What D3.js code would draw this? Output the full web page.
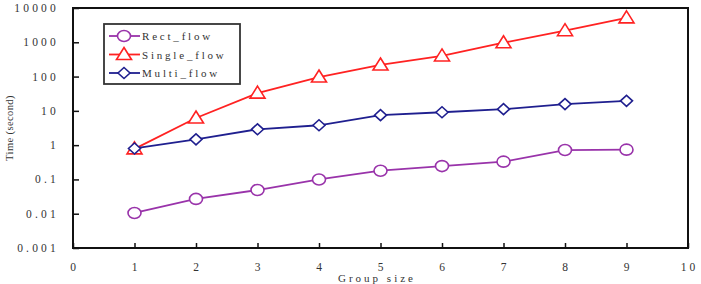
<!DOCTYPE html>
<html>
<head>
<meta charset="utf-8">
<script src="https://cdn.jsdelivr.net/npm/d3@7"></script>
<style>
  body { margin: 0; background: #fff; }
  text { font-family: "Liberation Serif", "DejaVu Serif", serif; fill: #333; }
</style>
</head>
<body>
<div id="chart"></div>
<script>
// data
var groupSize = [1, 2, 3, 4, 5, 6, 7, 8, 9];
var rectFlow = [0.0105, 0.027, 0.049, 0.1, 0.18, 0.245, 0.33, 0.72, 0.74];
var singleFlow = [0.78, 6.2, 33, 97, 218, 400, 970, 2180, 5150];
var multiFlow = [0.8, 1.48, 2.9, 3.8, 7.5, 9.1, 11.2, 15.8, 19.6];
var xTicks = [0, 1, 2, 3, 4, 5, 6, 7, 8, 9, 10];
var yTicks = [0.001, 0.01, 0.1, 1, 10, 100, 1000, 10000];
var yTickLabels = ["0.001", "0.01", "0.1", "1", "10", "100", "1000", "10000"];
var seriesNames = ["Rect_flow", "Single_flow", "Multi_flow"];

var width = 701, height = 284;
var margin = { left: 73, right: 13, top: 8, bottom: 36 };

var svg = d3.select("#chart").append("svg")
  .attr("width", width)
  .attr("height", height);

var x = d3.scaleLinear()
  .domain([0, 10])
  .range([margin.left, width - margin.right]);

var y = d3.scaleLog()
  .domain([0.001, 10000])
  .range([height - margin.bottom, margin.top]);

var series = [
  { name: seriesNames[0], values: rectFlow, color: "#9933aa", marker: "circle" },
  { name: seriesNames[1], values: singleFlow, color: "#ff2222", marker: "triangle" },
  { name: seriesNames[2], values: multiFlow, color: "#1f1f8f", marker: "diamond" }
];

// plot frame
svg.append("rect")
  .attr("x", margin.left)
  .attr("y", margin.top)
  .attr("width", width - margin.left - margin.right)
  .attr("height", height - margin.top - margin.bottom)
  .attr("fill", "none")
  .attr("stroke", "#111")
  .attr("stroke-width", 2);

// y axis, ticks point inward
var yAxis = d3.axisRight(y)
  .tickValues(yTicks)
  .tickSize(6)
  .tickFormat("");
svg.append("g")
  .attr("transform", "translate(" + margin.left + ",0)")
  .call(yAxis)
  .call(function (g) {
    g.select(".domain").remove();
    g.selectAll("line").attr("stroke", "#111").attr("stroke-width", 1.5);
  });

svg.selectAll(".ylab")
  .data(yTicks)
  .enter().append("text")
  .attr("class", "ylab")
  .attr("x", 59)
  .attr("y", function (d) { return y(d) + 4; })
  .attr("text-anchor", "end")
  .style("font-size", "11.5px")
  .style("letter-spacing", "3.2px")
  .text(function (d, i) { return yTickLabels[i]; });

// x axis, ticks point inward
var xAxis = d3.axisTop(x)
  .tickValues(xTicks)
  .tickSize(5)
  .tickFormat("");
svg.append("g")
  .attr("transform", "translate(0," + (height - margin.bottom) + ")")
  .call(xAxis)
  .call(function (g) {
    g.select(".domain").remove();
    g.selectAll("line").attr("stroke", "#111").attr("stroke-width", 1.5);
  });

svg.selectAll(".xlab")
  .data(xTicks)
  .enter().append("text")
  .attr("class", "xlab")
  .attr("x", function (d) { return x(d) + 1.5; })
  .attr("y", 271)
  .attr("text-anchor", "middle")
  .style("font-size", "11.5px")
  .style("letter-spacing", "3px")
  .text(function (d) { return d; });

svg.append("text")
  .attr("x", 377)
  .attr("y", 281.5)
  .attr("text-anchor", "middle")
  .style("font-size", "11px")
  .style("letter-spacing", "3px")
  .text("Group size");

svg.append("text")
  .attr("transform", "translate(13,128) rotate(-90)")
  .attr("text-anchor", "middle")
  .style("font-size", "10.5px")
  .style("letter-spacing", "0.4px")
  .text("Time (second)");

// markers
function drawMarker(sel, type, color) {
  if (type === "circle") {
    sel.append("ellipse")
      .attr("rx", 6.5).attr("ry", 5.5);
  } else if (type === "triangle") {
    sel.append("path").attr("d", "M0,-7L7.5,5L-7.5,5Z");
  } else {
    sel.append("path").attr("d", "M0,-5.5L6,0L0,5.5L-6,0Z");
  }
  sel.selectAll("ellipse,path")
    .attr("fill", "#fff")
    .attr("stroke", color)
    .attr("stroke-width", 1.6);
}

var line = d3.line()
  .x(function (d) { return x(d[0]); })
  .y(function (d) { return y(d[1]); });

// draw Rect first, then Single, then Multi on top
series.forEach(function (s) {
  var pts = groupSize.map(function (g, i) { return [g, s.values[i]]; });
  svg.append("path")
    .datum(pts)
    .attr("fill", "none")
    .attr("stroke", s.color)
    .attr("stroke-width", 1.8)
    .attr("d", line);
  svg.selectAll(".m-" + s.marker)
    .data(pts)
    .enter().append("g")
    .attr("class", "m-" + s.marker)
    .attr("transform", function (d) { return "translate(" + x(d[0]) + "," + y(d[1]) + ")"; })
    .each(function () { drawMarker(d3.select(this), s.marker, s.color); });
});

// legend
var legend = svg.append("g").attr("transform", "translate(104,24)");
legend.append("rect")
  .attr("width", 136)
  .attr("height", 60)
  .attr("fill", "#fff")
  .attr("stroke", "#333")
  .attr("stroke-width", 1.8);

var item = legend.selectAll(".item")
  .data(series)
  .enter().append("g")
  .attr("class", "item")
  .attr("transform", function (d, i) { return "translate(0," + (12 + i * 18.5) + ")"; });

item.append("line")
  .attr("x1", 5).attr("x2", 36)
  .attr("stroke", function (d) { return d.color; })
  .attr("stroke-width", 1.8);

item.append("g")
  .attr("transform", "translate(20,0)")
  .each(function (d) { drawMarker(d3.select(this), d.marker, d.color); });

item.append("text")
  .attr("x", 38)
  .attr("y", 4)
  .style("font-size", "11px")
  .style("letter-spacing", "2.8px")
  .text(function (d) { return d.name; });
</script>
</body>
</html>
